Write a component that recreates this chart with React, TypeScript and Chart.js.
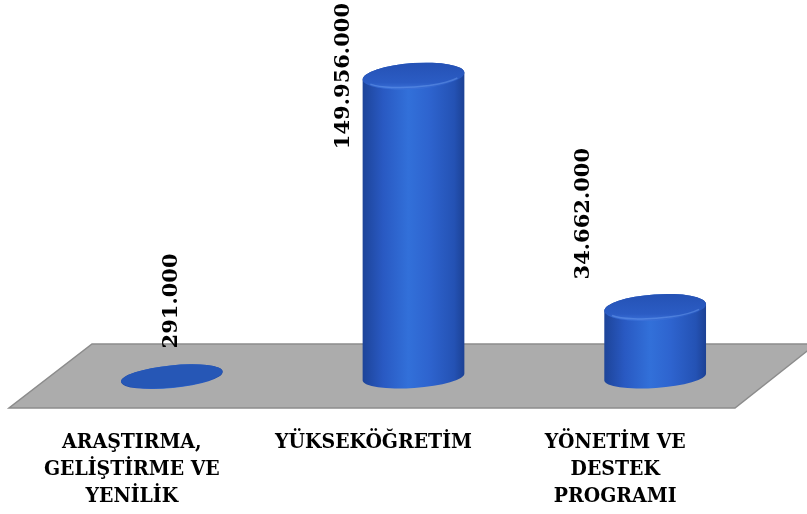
import React, { useEffect, useRef } from "react";
import { Chart, registerables } from "chart.js";

Chart.register(...registerables);

const categories: (string | string[])[] = [
  ["ARAŞTIRMA,", "GELİŞTİRME VE", "YENİLİK"],
  "YÜKSEKÖĞRETİM",
  ["YÖNETİM VE", "DESTEK", "PROGRAMI"],
];
const values: number[] = [291000, 149956000, 34662000];
const yMax = 150000000;
const labelShiftX: number[] = [0, -70, -72];

const fmt = (v: number) => String(v).replace(/\B(?=(\d{3})+(?!\d))/g, ".");

const cylinderPlugin = {
  id: "cylinders",
  beforeDatasetsDraw(chart: any) {
    const { ctx, chartArea: a } = chart;
    const base = chart.scales.y.getPixelForValue(0);
    ctx.save();
    ctx.beginPath();
    ctx.moveTo(a.left + 41, base - 33);
    ctx.lineTo(a.right + 40, base - 33);
    ctx.lineTo(a.right - 41, base + 31);
    ctx.lineTo(a.left - 42, base + 31);
    ctx.closePath();
    ctx.fillStyle = "#acacac";
    ctx.fill();
    ctx.strokeStyle = "#8c8c8c";
    ctx.lineWidth = 1.5;
    ctx.stroke();
    ctx.restore();
  },
  afterDatasetsDraw(chart: any) {
    const { ctx } = chart;
    const meta = chart.getDatasetMeta(0);
    meta.data.forEach((el: any, i: number) => {
      const { x, y, base, width } = el.getProps(["x", "y", "base", "width"], true);
      const h = base - y;
      const rx = width / 2;
      const ryB = 11;
      const ryT = 11 + Math.min(2, h / 10);
      const rot = h < 5 ? -0.1 : -0.07;
      ctx.save();
      // body
      const g = ctx.createLinearGradient(x - rx, 0, x + rx, 0);
      g.addColorStop(0, "#1d4499");
      g.addColorStop(0.2, "#2959c2");
      g.addColorStop(0.45, "#3270d9");
      g.addColorStop(0.65, "#2e64cf");
      g.addColorStop(0.9, "#2452b4");
      g.addColorStop(1, "#1c4194");
      ctx.beginPath();
      ctx.ellipse(x, base, rx, ryB, rot, 0, Math.PI, false);
      ctx.ellipse(x, y, rx, ryT, rot, Math.PI, 2 * Math.PI, false);
      ctx.closePath();
      ctx.fillStyle = g;
      ctx.fill();
      // top
      if (h < 5) {
        ctx.beginPath();
        ctx.ellipse(x, y, rx, ryT, rot, 0, 2 * Math.PI);
        ctx.fillStyle = "#2657b6";
        ctx.fill();
      } else {
        const tg = ctx.createLinearGradient(0, y - ryT, 0, y + ryT);
        tg.addColorStop(0, "#2552b5");
        tg.addColorStop(0.75, "#2b5cc4");
        tg.addColorStop(1, "#3a70d8");
        ctx.beginPath();
        ctx.ellipse(x, y, rx, ryT, rot, 0, 2 * Math.PI);
        ctx.fillStyle = tg;
        ctx.fill();
        ctx.beginPath();
        ctx.ellipse(x, y, rx - 2, ryT - 2, rot, 0.15 * Math.PI, 0.85 * Math.PI);
        ctx.strokeStyle = "rgba(110,160,240,0.45)";
        ctx.lineWidth = 1.5;
        ctx.stroke();
      }
      ctx.restore();

      // value label
      const text = fmt(values[i]);
      ctx.save();
      ctx.font = "bold 21px 'DejaVu Serif'";
      const w = ctx.measureText(text).width;
      let ly = y - 28;
      if (ly - w < 3) ly = 3 + w;
      ctx.translate(x + labelShiftX[i], ly);
      ctx.rotate(-Math.PI / 2);
      ctx.fillStyle = "#000";
      ctx.textAlign = "left";
      ctx.textBaseline = "middle";
      ctx.fillText(text, 0, 0);
      ctx.restore();
    });
  },
};

export default function App() {
  const ref = useRef<HTMLCanvasElement>(null);
  useEffect(() => {
    const chart = new Chart(ref.current as HTMLCanvasElement, {
      type: "bar",
      data: {
        labels: categories as any,
        datasets: [
          {
            data: values,
            backgroundColor: "rgba(0,0,0,0)",
            borderWidth: 0,
            categoryPercentage: 1,
            barPercentage: 0.422,
          },
        ],
      },
      options: {
        animation: false,
        responsive: true,
        maintainAspectRatio: false,
        layout: { padding: { top: 76, left: 51, right: 31, bottom: 0 } },
        plugins: { legend: { display: false }, tooltip: { enabled: false } },
        scales: {
          x: {
            grid: { display: false },
            border: { display: false },
            ticks: {
              color: "#000",
              font: { family: "'DejaVu Serif Condensed', 'Liberation Serif'", weight: "bold", size: 21, lineHeight: 27 / 21 },
              padding: 44,
              labelOffset: -40,
              maxRotation: 0,
              minRotation: 0,
              autoSkip: false,
            },
            afterFit: (s: any) => {
              s.height = 137;
            },
          },
          y: { display: false, min: 0, max: yMax },
        },
      } as any,
      plugins: [cylinderPlugin],
    });
    return () => chart.destroy();
  }, []);
  return (
    <div style={{ position: "absolute", left: 0, top: 0, width: 807, height: 514 }}>
      <canvas ref={ref} />
    </div>
  );
}
